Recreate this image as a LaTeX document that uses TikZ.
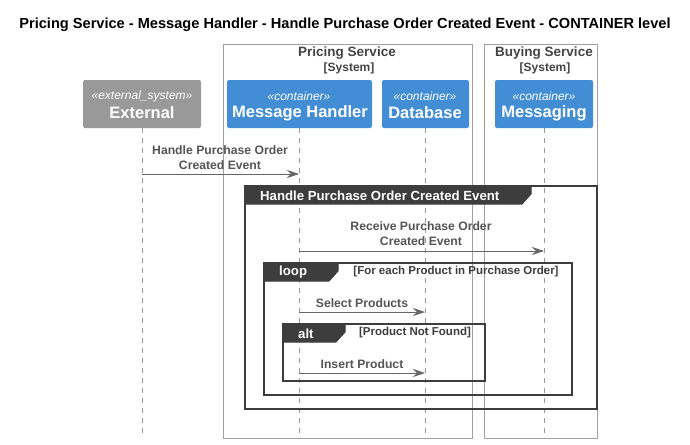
\documentclass[tikz,border=0pt]{standalone}
\usepackage{fontspec}
\setmainfont{Liberation Sans}
\usetikzlibrary{arrows.meta}
\definecolor{cblue}{HTML}{438DD5}
\definecolor{cgray}{HTML}{999999}
\definecolor{cdark}{HTML}{3D3D3D}
\definecolor{ctext}{HTML}{555555}
\definecolor{cline}{HTML}{666666}
\definecolor{cbound}{HTML}{A0A0A0}
\definecolor{chead}{HTML}{444444}
\begin{document}
\begin{tikzpicture}[x=1pt,y=-1pt,
  boundary/.style={draw=cbound,line width=0.8pt},
  lifeline/.style={draw=cgray,dashed,dash pattern=on 5pt off 5pt,line width=0.6pt},
  msg/.style={draw=cline,line width=0.8pt,-{Stealth[length=12pt,width=8pt,inset=4pt]}},
  msglabel/.style={text=ctext,font=\bfseries\fontsize{12.2}{15}\selectfont,align=center,inner sep=0pt},
  frame/.style={draw=cdark,line width=1.4pt},
  tab/.style={fill=cdark,draw=cdark,line width=1pt},
  tabtext/.style={text=white,font=\bfseries\fontsize{13.2}{15}\selectfont,inner sep=0pt},
  guard/.style={text=cdark,font=\bfseries\fontsize{11.5}{13}\selectfont,inner sep=0pt},
  stereo/.style={font=\itshape\fontsize{12}{14}\selectfont,text=white,inner sep=0pt},
  pname/.style={font=\bfseries\fontsize{16.5}{19}\selectfont,text=white,inner sep=0pt},
  bname/.style={text=chead,font=\bfseries\fontsize{13.5}{15}\selectfont,inner sep=0pt},
  bsys/.style={text=chead,font=\bfseries\fontsize{12}{14}\selectfont,inner sep=0pt}
]
\useasboundingbox (0,0) rectangle (690,444);
\node[font=\bfseries\fontsize{14.6}{17}\selectfont,inner sep=0pt] (title) at (345,25) {Pricing Service - Message Handler - Handle Purchase Order Created Event - CONTAINER level};

% boundaries
\draw[boundary] (223,44) rectangle (472,438);
\draw[boundary] (484,44) rectangle (597,438);
\node[bname] (ps) at (347,53) {Pricing Service};
\node[bsys] (pss) at (349,68) {[System]};
\node[bname] (bs) at (544,53) {Buying Service};
\node[bsys] (bss) at (545,68) {[System]};

% lifelines
\coordinate (extT) at (142,128); \coordinate (extB) at (142,436);
\coordinate (mhT) at (299,128); \coordinate (mhB) at (299,436);
\coordinate (dbT) at (425,128); \coordinate (dbB) at (425,436);
\coordinate (mgT) at (544,128); \coordinate (mgB) at (544,436);
\draw[lifeline] (extT) -- (extB);
\draw[lifeline] (mhT) -- (mhB);
\draw[lifeline] (dbT) -- (dbB);
\draw[lifeline] (mgT) -- (mgB);

% participants
\fill[cgray,rounded corners=2pt] (83,80) rectangle (201,128);
\node[stereo] (extS) at (142,96) {«external\_system»};
\node[pname] (ext) at (142,113) {External};
\fill[cblue,rounded corners=2pt] (227,80) rectangle (372,128);
\node[stereo] (mhS) at (299,96) {«container»};
\node[pname] (mh) at (300,113) {Message Handler};
\fill[cblue,rounded corners=2pt] (382,80) rectangle (469,128);
\node[stereo] (dbS) at (425,96) {«container»};
\node[pname] (db) at (425,113) {Database};
\fill[cblue,rounded corners=2pt] (495,80) rectangle (593,128);
\node[stereo] (mgS) at (544,96) {«container»};
\node[pname] (mg) at (544,113) {Messaging};

% message 1
\coordinate (m1a) at (142,174); \coordinate (m1b) at (299,174);
\draw[msg] (m1a) -- (m1b);
\node[msglabel] (l1) at (220,157.5) {Handle Purchase Order\\Created Event};

% group frame
\draw[frame] (245,186) rectangle (597,409);
\draw[tab] (245,186) -- (531,186) -- (531,194) -- (522,204) -- (245,204) -- cycle;
\node[tabtext,anchor=west] (gt) at (260,195.5) {Handle Purchase Order Created Event};

% message 2
\coordinate (m2a) at (299,251); \coordinate (m2b) at (544,251);
\draw[msg] (m2a) -- (m2b);
\node[msglabel] (l2) at (421,233.5) {Receive Purchase Order\\Created Event};

% loop
\draw[frame] (264,263) rectangle (572,395);
\draw[tab] (264,263) -- (338,263) -- (338,271) -- (329,281) -- (264,281) -- cycle;
\node[tabtext,anchor=west] (lt) at (279,272.5) {loop};
\node[guard] (lg) at (456,272) {[For each Product in Purchase Order]};

% message 3
\coordinate (m3a) at (299,312); \coordinate (m3b) at (425,312);
\draw[msg] (m3a) -- (m3b);
\node[msglabel] (l3) at (362,303) {Select Products};

% alt
\draw[frame] (283,324) rectangle (485,381);
\draw[tab] (283,324) -- (345,324) -- (345,332) -- (336,342) -- (283,342) -- cycle;
\node[tabtext,anchor=west] (at) at (298,333.5) {alt};
\node[guard] (ag) at (415,333) {[Product Not Found]};

% message 4
\coordinate (m4a) at (299,373); \coordinate (m4b) at (425,373);
\draw[msg] (m4a) -- (m4b);
\node[msglabel] (l4) at (362,364) {Insert Product};
\end{tikzpicture}
\end{document}
